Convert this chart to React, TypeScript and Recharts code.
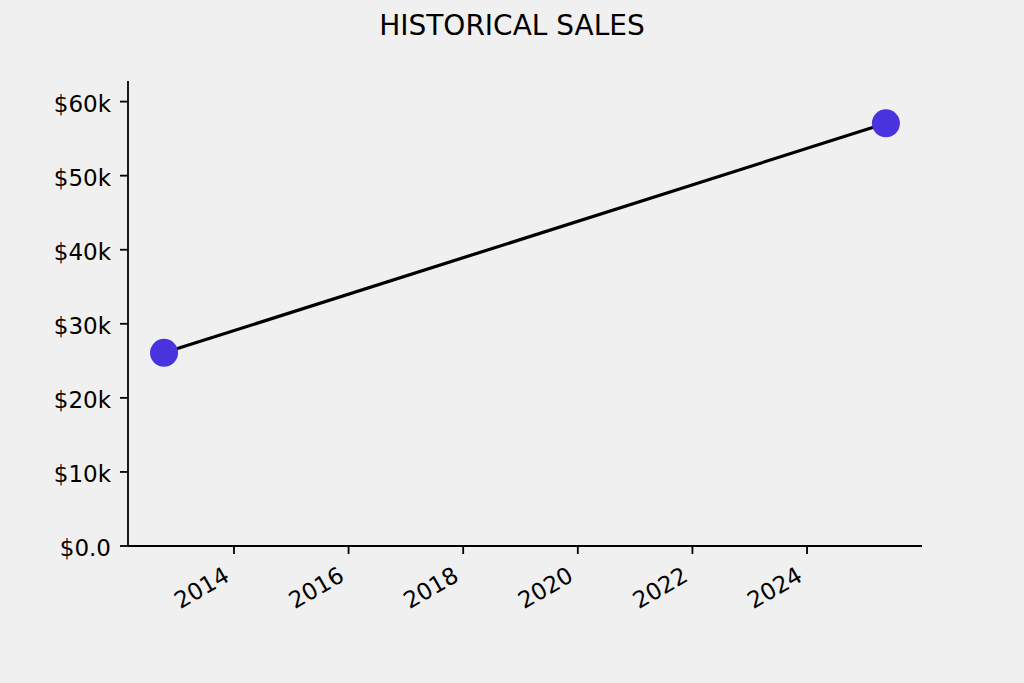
import React from 'react';
import { LineChart, Line, XAxis, YAxis } from 'recharts';

const years = [2012.78, 2025.376];
const sales = [26080, 57070];
const xTicks = [2014, 2016, 2018, 2020, 2022, 2024];
const yTicks = [0, 10000, 20000, 30000, 40000, 50000, 60000];
const xDomain = [2012.151, 2026.006];
const yDomain = [0, 62780];
const title = 'HISTORICAL SALES';

const data = years.map((y, i) => ({ year: y, sales: sales[i] }));

const FONT = '"DejaVu Sans", sans-serif';

const fmtY = (v: number) => (v === 0 ? '$0.0' : `$${Math.round(v / 1000)}k`);

const XTick = (props: any) => {
  const { x, y, payload } = props;
  const ax = x - 3;
  const ay = y + 24;
  return (
    <text
      x={ax}
      y={ay}
      transform={`rotate(-30, ${ax}, ${ay})`}
      textAnchor="end"
      fontSize={23}
      fontFamily={FONT}
      fill="#000"
    >
      {payload.value}
    </text>
  );
};

const YTick = (props: any) => {
  const { x, y, payload } = props;
  return (
    <text x={x} y={y + 10} textAnchor="end" fontSize={23} fontFamily={FONT} fill="#000">
      {fmtY(payload.value)}
    </text>
  );
};

export default function App() {
  return (
    <div style={{ position: 'fixed', left: 0, top: 0, width: 1024, height: 683, background: '#f0f0f0' }}>
      <svg style={{ position: 'absolute', left: 0, top: 0 }} width={1024} height={60}>
        <text x={512} y={35} textAnchor="middle" fontSize={28} fontFamily={FONT} fill="#000">
          {title}
        </text>
      </svg>
      <div style={{ position: 'absolute', left: 0, top: 0 }}>
        <LineChart
          width={1024}
          height={683}
          data={data}
          margin={{ top: 81, right: 102, bottom: 77, left: 68 }}
        >
          <XAxis
            dataKey="year"
            type="number"
            domain={xDomain}
            ticks={xTicks}
            allowDataOverflow
            height={60}
            tickSize={8}
            tick={<XTick />}
            axisLine={{ stroke: '#000', strokeWidth: 1.8 }}
            tickLine={{ stroke: '#000', strokeWidth: 1.8 }}
            interval={0}
          />
          <YAxis
            type="number"
            domain={yDomain}
            ticks={yTicks}
            allowDataOverflow
            width={60}
            tickSize={8}
            tickMargin={9}
            tick={<YTick />}
            axisLine={{ stroke: '#000', strokeWidth: 1.8 }}
            tickLine={{ stroke: '#000', strokeWidth: 1.8 }}
            interval={0}
          />
          <Line
            dataKey="sales"
            stroke="#000"
            strokeWidth={3.2}
            isAnimationActive={false}
            dot={{ r: 14, fill: '#4833df', stroke: 'none', fillOpacity: 1 }}
            activeDot={false}
          />
        </LineChart>
      </div>
    </div>
  );
}
